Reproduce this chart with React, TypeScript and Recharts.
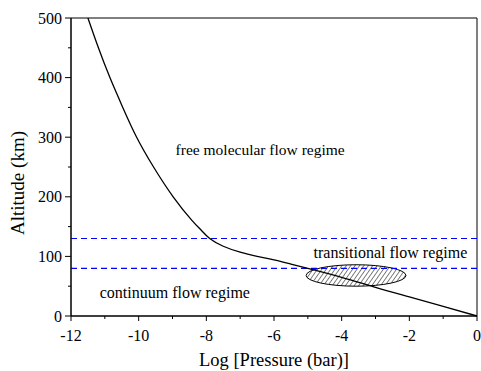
import React from 'react';
import {
  LineChart,
  Line,
  XAxis,
  YAxis,
  ReferenceLine,
  ReferenceArea,
  ReferenceDot,
} from 'recharts';

// altitude profile
const logPressure = [-11.5, -11.19, -10.85, -10.47, -10.06, -9.56, -8.98, -8.42, -8.15, -7.9, -7.5, -7.0, -6.5, -6.0, -5.5, -5.0, -4.0, -3.0, -2.0, -1.0, 0];
const altitudeKm = [500, 450, 400, 350, 300, 250, 200, 160, 144, 130, 117, 107, 100, 94, 87, 80, 65, 48, 32, 16, 0];

// regime boundaries (km)
const boundaries = [130, 80];

// hatched region: [x1, x2, y1, y2]
const hatchBox = [-5.05, -2.1, 50, 86];

const regimeLabels = ['free molecular flow regime', 'transitional flow regime', 'continuum flow regime'];
const regimeX = [-6.41, -2.56, -8.93];
const regimeY = [278, 105.7, 38.6];
const regimeSize = [15.5, 16, 16];

const xTicks = [-12, -11, -10, -9, -8, -7, -6, -5, -4, -3, -2, -1, 0];
const yTicks = [0, 50, 100, 150, 200, 250, 300, 350, 400, 450, 500];

const data = logPressure.map((p, i) => ({ p, alt: altitudeKm[i] }));

const FONT = 'Liberation Serif';

const XTick = (props: any) => {
  const { x, y, payload } = props;
  const major = payload.value % 2 === 0;
  return (
    <g>
      <line x1={x} x2={x} y1={y} y2={y + (major ? 5 : 3)} stroke="#000" />
      {major && (
        <text x={x} y={y + 24.5} textAnchor="middle" fontFamily={FONT} fontSize={16} fill="#000">
          {payload.value}
        </text>
      )}
    </g>
  );
};

const YTick = (props: any) => {
  const { x, y, payload } = props;
  const major = payload.value % 100 === 0;
  return (
    <g>
      <line x1={x} x2={x - (major ? 6 : 3)} y1={y} y2={y} stroke="#000" />
      {major && (
        <text x={x - 9} y={y + 5.5} textAnchor="end" fontFamily={FONT} fontSize={16} fill="#000">
          {payload.value}
        </text>
      )}
    </g>
  );
};

const XTitle = (props: any) => {
  const { viewBox } = props;
  const cx = viewBox.x + viewBox.width / 2;
  return (
    <text x={cx} y={366} textAnchor="middle" fontFamily={FONT} fontSize={18.5} fill="#000">
      Log [Pressure (bar)]
    </text>
  );
};

const YTitle = (props: any) => {
  const { viewBox } = props;
  const cx = 24;
  const cy = viewBox.y + viewBox.height / 2 + 16;
  return (
    <text
      x={cx}
      y={cy}
      transform={`rotate(-90 ${cx} ${cy})`}
      textAnchor="middle"
      fontFamily={FONT}
      fontSize={19}
      fill="#000"
    >
      Altitude (km)
    </text>
  );
};

const HatchedEllipse = (props: any) => {
  const { x, y, width, height } = props;
  return (
    <g>
      <defs>
        <pattern id="hatch" width="3.6" height="6" patternUnits="userSpaceOnUse" patternTransform="rotate(35)">
          <line x1="0" y1="0" x2="0" y2="6" stroke="#000" strokeWidth={1} />
        </pattern>
      </defs>
      <ellipse
        cx={x + width / 2}
        cy={y + height / 2}
        rx={width / 2}
        ry={height / 2}
        fill="url(#hatch)"
        stroke="#000"
        strokeWidth={1}
      />
    </g>
  );
};

export default function App() {
  return (
    <div style={{ width: 481, height: 371 }}>
      <style>{'body{margin:0;overflow:hidden}'}</style>
      <LineChart width={481} height={371} data={data} margin={{ top: 18, right: 4, bottom: 0, left: 0 }}>
        <XAxis
          dataKey="p"
          type="number"
          domain={[-12, 0]}
          ticks={xTicks}
          interval={0}
          height={55}
          tickLine={false}
          tickSize={0}
          tickMargin={0}
          tick={<XTick />}
          axisLine={{ stroke: '#000' }}
          label={<XTitle />}
        />
        <YAxis
          type="number"
          domain={[0, 500]}
          ticks={yTicks}
          interval={0}
          width={71}
          tickLine={false}
          tickSize={0}
          tickMargin={0}
          tick={<YTick />}
          axisLine={{ stroke: '#000' }}
          label={<YTitle />}
        />
        <ReferenceArea x1={-12} x2={0} y1={0} y2={500} fill="none" stroke="#000" strokeWidth={1} />
        {boundaries.map((b) => (
          <ReferenceLine key={b} y={b} stroke="#0000ff" strokeWidth={1.2} strokeDasharray="6 4" />
        ))}
        <ReferenceArea
          x1={hatchBox[0]}
          x2={hatchBox[1]}
          y1={hatchBox[2]}
          y2={hatchBox[3]}
          shape={<HatchedEllipse />}
        />
        <Line
          dataKey="alt"
          type="natural"
          stroke="#000"
          strokeWidth={1.3}
          dot={false}
          isAnimationActive={false}
        />
        {regimeLabels.map((t, i) => (
          <ReferenceDot
            key={t}
            x={regimeX[i]}
            y={regimeY[i]}
            r={0}
            shape={(p: any) => (
              <text x={p.cx} y={p.cy + 5} textAnchor="middle" fontFamily={FONT} fontSize={regimeSize[i]} fill="#000">
                {t}
              </text>
            )}
          />
        ))}
      </LineChart>
    </div>
  );
}
